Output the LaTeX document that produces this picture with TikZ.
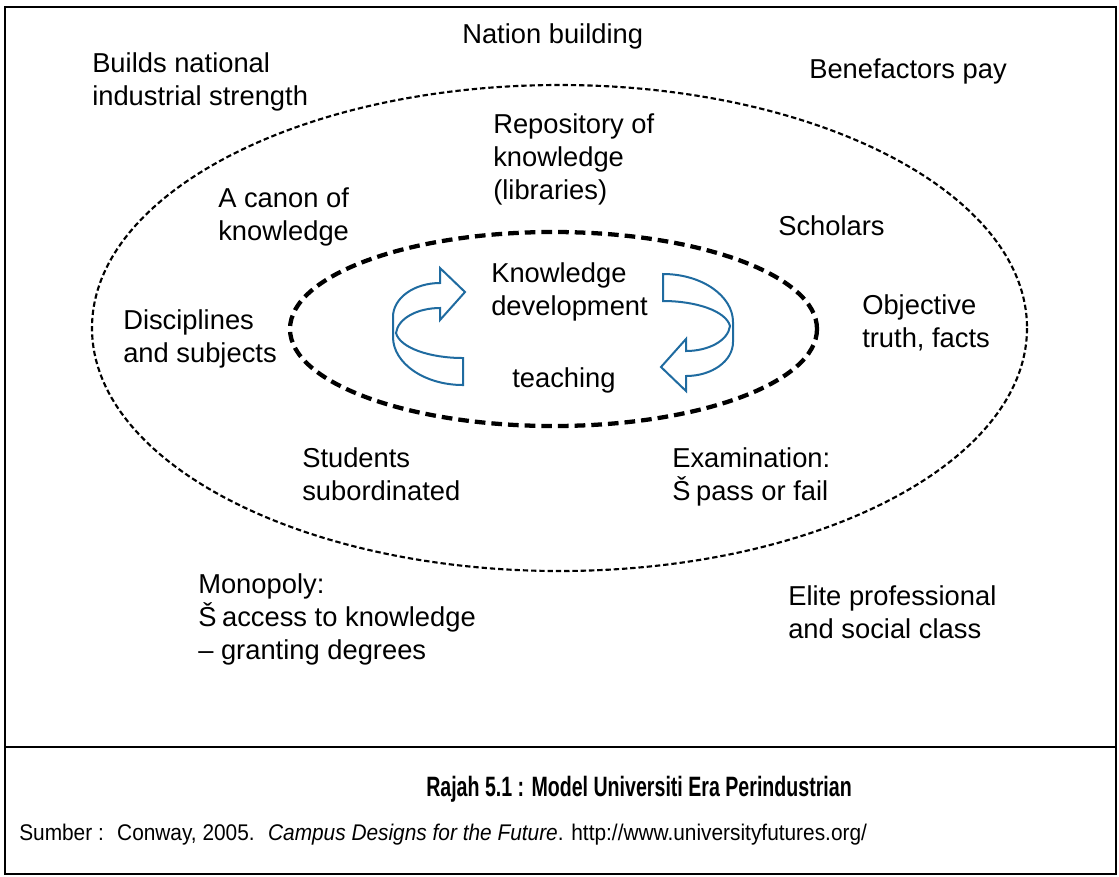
\documentclass[tikz,border=0pt]{standalone}
\usepackage{fontspec}
\setmainfont{Liberation Sans}
\newfontfamily\narrowsans[FakeStretch=0.70]{Liberation Sans}
\newfontfamily\sourcesans[FakeStretch=0.92]{Liberation Sans}
\usepackage{tikz}

\definecolor{loopblue}{RGB}{31,107,160}

\tikzset{
  lbl/.style={anchor=north west, inner sep=0pt, align=left,
              font=\fontsize{20.5}{24.75}\selectfont},
  outerring/.style={line width=1.6pt, dash pattern=on 4pt off 2.2pt},
  innerring/.style={line width=3.2pt, dash pattern=on 8pt off 4.5pt},
  ribbon/.style={draw=loopblue, line width=1.5pt, line join=miter, fill=white}
}

% one half of the loop: tail at the bottom, head pointing right
\def\loopribbon{
  (463,385) .. controls (424,385) and (393,363) .. (393,337)
  -- (393,317) .. controls (393,298) and (414,283) .. (440,283)
  -- (440,268) -- (465,292) -- (440,320) -- (440,308)
  .. controls (418,308) and (398,318) .. (396,333)
  .. controls (400,348) and (430,358) .. (463,358) -- cycle
}

\begin{document}
\begin{tikzpicture}[x=0.75pt, y=-0.75pt]

  % page and frame
  \useasboundingbox (0,0) rectangle (1119,876);
  \draw[line width=1.5pt] (5,7) rectangle (1116,874);
  \draw[line width=1.5pt] (5,747) -- (1116,747);

  % --- the two rings ---
  \draw[outerring] (559.5,328) ellipse [x radius=467.5, y radius=243];
  \draw[innerring] (553.5,329) ellipse [x radius=263.5, y radius=97];

  % --- knowledge loop arrows ---
  \draw[ribbon] \loopribbon;
  \begin{scope}[rotate around={180:(563,329.5)}]
    \draw[ribbon] \loopribbon;
  \end{scope}

  % --- outside the big ring ---
  \node[lbl] (nation) at (462,23) {Nation building};
  \node[lbl] (builds) at (92,52) {Builds national\\industrial strength};
  \node[lbl] (benefactors) at (809,58) {Benefactors pay};
  \node[lbl] (monopoly) at (198,573) {Monopoly:\\Š\hspace{-1.5pt} access to knowledge\\– granting degrees};
  \node[lbl] (elite) at (788,585) {Elite professional\\and social class};

  % --- between the rings ---
  \node[lbl] (repository) at (493,113) {Repository of\\knowledge\\(libraries)};
  \node[lbl] (canon) at (218,187) {A canon of\\knowledge};
  \node[lbl] (scholars) at (778,215) {Scholars};
  \node[lbl] (disciplines) at (123,309) {Disciplines\\and subjects};
  \node[lbl] (objective) at (862,294) {Objective\\truth, facts};
  \node[lbl] (students) at (302,447) {Students\\subordinated};
  \node[lbl] (examination) at (672,447) {Examination:\\Š\hspace{-1.5pt} pass or fail};

  % --- inside the small ring ---
  \node[lbl] (development) at (491,262) {Knowledge\\development};
  \node[lbl] (teaching) at (512,367) {teaching};

  % --- caption ---
  \node[anchor=base, inner sep=0pt, font=\narrowsans\bfseries\fontsize{21}{24}\selectfont]
    (caption) at (639,796) {Rajah 5.1 : Model Universiti Era Perindustrian};
  \node[anchor=base west, inner sep=0pt, font=\sourcesans\fontsize{17}{20}\selectfont]
    (source) at (19,840) {Sumber :\hspace{10pt}Conway, 2005.\hspace{10pt}\textit{Campus Designs for the Future}. http://www.universityfutures.org/};

\end{tikzpicture}
\end{document}
